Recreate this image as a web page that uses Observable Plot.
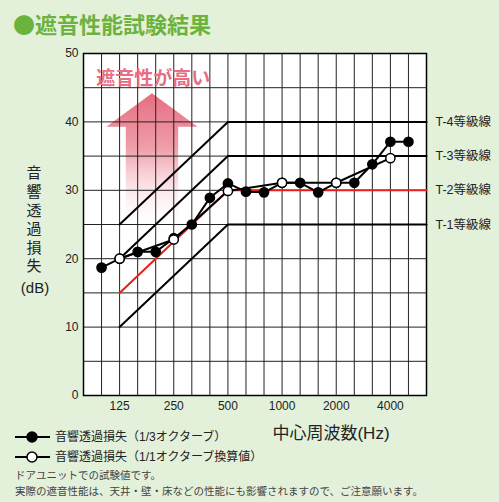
<!DOCTYPE html>
<html>
<head>
<meta charset="utf-8">
<script src="https://cdn.jsdelivr.net/npm/d3@7"></script>
<script src="https://cdn.jsdelivr.net/npm/@observablehq/plot@0.6"></script>
<style>
  html, body { margin: 0; padding: 0; background: #e3f0da; }
  #chart { width: 499px; height: 502px; }
</style>
</head>
<body>
<div id="chart"></div>
<script>
// One-third-octave band centre frequencies spanning the chart (Hz)
const bands = ["80","100","125","160","200","250","315","400","500","630","800","1000","1250","1600","2000","2500","3150","4000","5000","6300"];
const tickBands = ["125","250","500","1000","2000","4000"];
const yTicks = [0, 10, 20, 30, 40, 50];

// Sound transmission loss, 1/3-octave bands (dB)
const thirdFreq = ["100","125","160","200","250","315","400","500","630","800","1000","1250","1600","2000","2500","3150","4000","5000"];
const thirdLoss = [18.7, 20, 21, 21, 23, 25, 28.9, 31, 29.8, 29.7, 31.1, 31.1, 29.7, 31.1, 31.1, 33.8, 37.1, 37.1];

// Sound transmission loss, converted to full-octave bands (dB)
const octaveFreq = ["125","250","500","1000","2000","4000"];
const octaveLoss = [20, 22.8, 29.9, 31.1, 31.1, 34.7];

// Sound insulation grade curves: value at 125 Hz rising to the flat value from 500 Hz up
const gradeNames = ["T-1等級線", "T-2等級線", "T-3等級線", "T-4等級線"];
const gradeLow = [10, 15, 20, 25];
const gradeHigh = [25, 30, 35, 40];
const highlightGrade = "T-2等級線";

const title = "●遮音性能試験結果";
const yTitleChars = ["音", "響", "透", "過", "損", "失"];
const yTitleUnit = "(dB)";
const xTitle = "中心周波数(Hz)";
const legendLabels = ["音響透過損失（1/3オクターブ）", "音響透過損失（1/1オクターブ換算値）"];
const notes = ["ドアユニットでの試験値です。", "実際の遮音性能は、天井・壁・床などの性能にも影響されますので、ご注意願います。"];
const arrowLabel = "遮音性が高い";

const bi = f => bands.indexOf(f);
const thirdData = thirdFreq.map((f, i) => ({band: bi(f), loss: thirdLoss[i]}));
const octaveData = octaveFreq.map((f, i) => ({band: bi(f), loss: octaveLoss[i]}));
const gradeData = gradeNames.flatMap((g, i) => [
  {grade: g, band: bi("125"), loss: gradeLow[i]},
  {grade: g, band: bi("500"), loss: gradeHigh[i]},
  {grade: g, band: bands.length - 1, loss: gradeHigh[i]}
]);
const gradeEnds = gradeNames.map((g, i) => ({grade: g, band: bands.length - 1, loss: gradeHigh[i]}));

// "Higher insulation" arrow, placed in band / dB units
const arrow = {band: 3.82, tip: 44.1, headBase: 39.2, bottom: 24.5, headHalf: 2.53, shaftHalf: 1.45};
function arrowMark(index, scales) {
  const x = scales.x, y = scales.y;
  const g = d3.create("svg:g");
  const grad = g.append("defs").append("linearGradient")
    .attr("id", "arrow-grad").attr("x1", 0).attr("y1", 0).attr("x2", 0).attr("y2", 1);
  grad.append("stop").attr("offset", 0).attr("stop-color", "#e66e81");
  grad.append("stop").attr("offset", 0.34).attr("stop-color", "#ee96a3");
  grad.append("stop").attr("offset", 0.42).attr("stop-color", "#f0a0ac");
  grad.append("stop").attr("offset", 1).attr("stop-color", "#ffffff").attr("stop-opacity", 0.1);
  const pts = [
    [arrow.band, arrow.tip],
    [arrow.band + arrow.headHalf, arrow.headBase],
    [arrow.band + arrow.shaftHalf, arrow.headBase],
    [arrow.band + arrow.shaftHalf, arrow.bottom],
    [arrow.band - arrow.shaftHalf, arrow.bottom],
    [arrow.band - arrow.shaftHalf, arrow.headBase],
    [arrow.band - arrow.headHalf, arrow.headBase]
  ].map(([b, v]) => [x(b), y(v)]);
  g.append("polygon").attr("points", pts.map(p => p.join(",")).join(" ")).attr("fill", "url(#arrow-grad)");
  return g.node();
}

const chart = Plot.plot({
  width: 499,
  height: 502,
  marginTop: 53,
  marginLeft: 83,
  marginRight: 73,
  marginBottom: 107,
  style: {fontFamily: "'Liberation Sans', 'Noto Sans CJK JP', sans-serif", fontSize: "12px", background: "#e3f0da", color: "#222"},
  x: {type: "linear", domain: [0, bands.length - 1]},
  y: {domain: [0, 50]},
  marks: [
    Plot.frame({fill: "white", stroke: null}),
    arrowMark,
    Plot.ruleX(d3.range(bands.length), {stroke: "#222", strokeWidth: 1}),
    Plot.ruleY(d3.range(0, 51, 5), {stroke: "#222", strokeWidth: 1}),
    Plot.text([arrowLabel], {x: 3.87, y: 46.35, text: d => d, fill: "#e96d83", fontSize: 19, fontWeight: "bold", fontFamily: "'Noto Sans CJK JP', sans-serif"}),
    Plot.frame({stroke: "black", strokeWidth: 1.5}),
    Plot.axisX(tickBands.map(bi), {tickFormat: i => bands[i], tickSize: 0, tickPadding: 6, fontSize: 12, label: null}),
    Plot.axisY(yTicks, {tickSize: 0, tickPadding: 5, fontSize: 12, label: null}),
    Plot.line(gradeData.filter(d => d.grade !== highlightGrade), {x: "band", y: "loss", z: "grade", stroke: "black", strokeWidth: 2}),
    Plot.line(gradeData.filter(d => d.grade === highlightGrade), {x: "band", y: "loss", stroke: "#e8201a", strokeWidth: 2}),
    Plot.text(gradeEnds, {x: "band", y: "loss", text: "grade", dx: 9, textAnchor: "start", fontSize: 12.5, fill: "#222"}),
    Plot.line(octaveData, {x: "band", y: "loss", stroke: "black", strokeWidth: 2}),
    Plot.line(thirdData, {x: "band", y: "loss", stroke: "black", strokeWidth: 2}),
    Plot.dot(thirdData, {x: "band", y: "loss", r: 4.6, fill: "black", stroke: "black"}),
    Plot.dot(octaveData, {x: "band", y: "loss", r: 4.6, fill: "white", stroke: "black", strokeWidth: 1.5})
  ]
});

const svg = d3.select(chart);
const jp = "'Liberation Sans', 'Noto Sans CJK JP', sans-serif";

// Heading
svg.append("text").attr("x", 13).attr("y", 33).attr("text-anchor", "start").attr("font-size", 22).attr("font-weight", "bold")
  .attr("font-family", "'Noto Sans CJK JP', sans-serif").attr("fill", "#6cb33e").text(title);

// Vertical y-axis title
const yTitleY = [172, 191, 210, 228, 247, 265];
yTitleChars.forEach((c, i) => {
  svg.append("text").attr("x", 34).attr("y", yTitleY[i]).attr("text-anchor", "middle")
    .attr("dominant-baseline", "central").attr("font-size", 15).attr("font-family", jp).attr("fill", "#222").text(c);
});
svg.append("text").attr("x", 35).attr("y", 287).attr("text-anchor", "middle")
  .attr("dominant-baseline", "central").attr("font-size", 15).attr("font-family", jp).attr("fill", "#222").text(yTitleUnit);

// x-axis title
svg.append("text").attr("x", 331).attr("y", 433).attr("text-anchor", "middle")
  .attr("dominant-baseline", "central").attr("font-size", 17).attr("font-family", jp).attr("fill", "#222").text(xTitle);

// Legend
const legendY = [437, 457];
legendLabels.forEach((label, i) => {
  const gy = legendY[i];
  svg.append("line").attr("x1", 15).attr("x2", 50).attr("y1", gy).attr("y2", gy).attr("stroke", "black").attr("stroke-width", 2);
  svg.append("circle").attr("cx", 32).attr("cy", gy).attr("r", 5)
    .attr("fill", i === 0 ? "black" : "white").attr("stroke", "black").attr("stroke-width", 1.5);
  svg.append("text").attr("x", 55).attr("y", gy).attr("text-anchor", "start").attr("dominant-baseline", "central")
    .attr("font-size", 12).attr("font-family", jp).attr("fill", "#222").text(label);
});

// Notes
const noteY = [475, 491];
notes.forEach((n, i) => {
  svg.append("text").attr("x", 15).attr("y", noteY[i]).attr("text-anchor", "start").attr("dominant-baseline", "central")
    .attr("font-size", 10.5).attr("font-family", jp).attr("fill", "#444").text(n);
});

document.getElementById("chart").append(chart);
</script>
</body>
</html>
